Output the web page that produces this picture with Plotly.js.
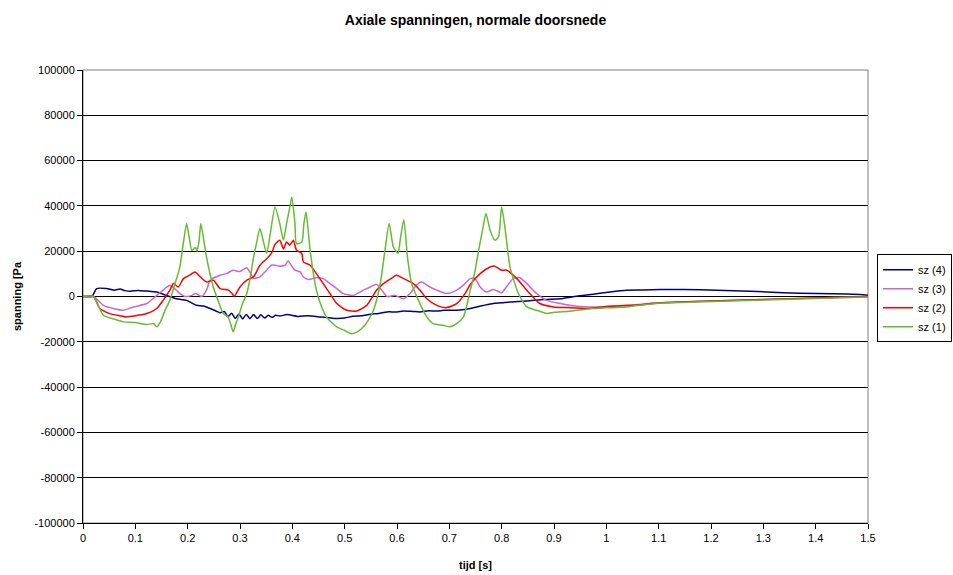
<!DOCTYPE html>
<html>
<head>
<meta charset="utf-8">
<script src="https://cdn.plot.ly/plotly-3.0.1.min.js"></script>
<style>html,body{margin:0;padding:0;background:#fff;}#chart{width:953px;height:575px;}</style>
</head>
<body>
<div id="chart"></div>
<script>
// sz (4)
var t4 = [0, 0.017, 0.026, 0.045, 0.06, 0.071, 0.08, 0.09, 0.105, 0.122, 0.141, 0.159, 0.179, 0.198, 0.217, 0.23, 0.243, 0.255, 0.262, 0.27, 0.277, 0.284, 0.291, 0.298, 0.305, 0.312, 0.319, 0.326, 0.333, 0.34, 0.347, 0.354, 0.361, 0.368, 0.376, 0.39, 0.41, 0.43, 0.453, 0.47, 0.485, 0.5, 0.516, 0.533, 0.549, 0.565, 0.581, 0.6, 0.612, 0.63, 0.644, 0.66, 0.676, 0.69, 0.707, 0.72, 0.74, 0.752, 0.768, 0.784, 0.8, 0.816, 0.848, 0.88, 0.912, 0.943, 0.975, 1.007, 1.039, 1.07, 1.103, 1.147, 1.211, 1.275, 1.338, 1.402, 1.46, 1.485, 1.5];
var sz4 = [0, 0, 3500, 3500, 2800, 3300, 2600, 2300, 2700, 2400, 2000, 500, -1000, -1700, -3900, -4200, -5300, -6500, -7200, -6600, -8900, -7400, -9700, -7700, -9900, -7900, -9800, -8000, -9700, -8100, -9500, -8300, -9200, -8300, -8600, -8000, -8800, -8500, -9000, -9400, -9700, -9500, -8700, -8500, -7800, -7500, -6800, -6800, -6400, -6600, -6800, -6300, -6400, -6100, -6100, -6000, -5300, -4600, -3800, -3100, -2800, -2400, -2000, -1300, -1000, 100, 1000, 2000, 2800, 2900, 3100, 3100, 2800, 2300, 1700, 1300, 1100, 900, 500];

// sz (3)
var t3 = [0, 0.02, 0.039, 0.058, 0.077, 0.096, 0.122, 0.141, 0.153, 0.166, 0.175, 0.185, 0.195, 0.208, 0.215, 0.227, 0.236, 0.243, 0.262, 0.274, 0.287, 0.3, 0.313, 0.322, 0.326, 0.338, 0.351, 0.36, 0.367, 0.376, 0.386, 0.392, 0.399, 0.405, 0.415, 0.421, 0.431, 0.446, 0.459, 0.472, 0.485, 0.497, 0.516, 0.536, 0.549, 0.561, 0.571, 0.581, 0.596, 0.612, 0.625, 0.637, 0.647, 0.663, 0.676, 0.695, 0.714, 0.727, 0.74, 0.749, 0.759, 0.771, 0.784, 0.8, 0.809, 0.822, 0.835, 0.848, 0.867, 0.886, 0.912, 0.943, 0.988, 1.039, 1.103, 1.2, 1.3, 1.4, 1.5];
var sz3 = [0, 0, -3900, -5300, -6100, -4600, -3100, 500, 2800, 5000, 3500, 1300, 0, 500, 1300, 0, 2800, 7200, 9400, 10100, 11600, 11000, 12700, 9400, 8000, 8700, 11600, 13800, 13800, 13400, 13800, 15700, 13400, 11600, 10900, 8600, 7500, 8300, 7900, 5700, 3500, 1300, 500, 2800, 4200, 5400, 2800, 0, 500, -1000, 1300, 5000, 6400, 4200, 2800, 1300, 2800, 5000, 7900, 7900, 4200, 2000, 3100, 1700, 4200, 7900, 8300, 5700, 1300, -1700, -3100, -4300, -4600, -3900, -2800, -2000, -1300, -700, 0];

// sz (2)
var t2 = [0, 0.02, 0.032, 0.045, 0.058, 0.07, 0.083, 0.1, 0.122, 0.141, 0.153, 0.166, 0.173, 0.182, 0.192, 0.204, 0.214, 0.224, 0.236, 0.249, 0.262, 0.278, 0.284, 0.289, 0.3, 0.313, 0.326, 0.338, 0.351, 0.36, 0.367, 0.376, 0.383, 0.389, 0.395, 0.402, 0.408, 0.418, 0.421, 0.434, 0.446, 0.459, 0.472, 0.485, 0.504, 0.523, 0.542, 0.561, 0.574, 0.593, 0.599, 0.612, 0.631, 0.644, 0.657, 0.676, 0.695, 0.714, 0.73, 0.74, 0.759, 0.778, 0.787, 0.8, 0.81, 0.829, 0.848, 0.873, 0.899, 0.924, 0.963, 1.007, 1.052, 1.103, 1.2, 1.3, 1.4, 1.5];
var sz2 = [0, 0, -5300, -7000, -8000, -8500, -9000, -8500, -7500, -5300, -1700, 2800, 5700, 4200, 7900, 9400, 10800, 8700, 6400, 7200, 3500, 2800, 1500, 100, 4200, 7200, 8700, 13800, 16700, 19000, 23000, 24800, 21000, 24100, 22600, 24800, 20400, 19000, 15300, 13800, 10100, 5700, 1300, -3100, -6100, -6400, -3900, 2800, 5700, 8600, 9400, 8000, 5700, 2800, -1000, -3900, -4900, -3100, 1300, 5300, 10100, 13000, 13400, 11600, 11600, 7900, 2800, -3100, -4600, -4900, -5300, -4300, -3900, -2800, -2000, -1300, -700, 0];

// sz (1)
var t1 = [0, 0.02, 0.039, 0.06, 0.077, 0.1, 0.122, 0.135, 0.141, 0.148, 0.157, 0.166, 0.175, 0.185, 0.192, 0.198, 0.203, 0.208, 0.215, 0.218, 0.222, 0.225, 0.23, 0.236, 0.249, 0.26, 0.268, 0.277, 0.282, 0.287, 0.292, 0.297, 0.305, 0.313, 0.32, 0.326, 0.332, 0.338, 0.345, 0.351, 0.358, 0.367, 0.376, 0.383, 0.389, 0.394, 0.399, 0.405, 0.408, 0.418, 0.422, 0.426, 0.43, 0.434, 0.446, 0.455, 0.465, 0.475, 0.485, 0.5, 0.513, 0.525, 0.536, 0.545, 0.555, 0.568, 0.577, 0.585, 0.593, 0.602, 0.606, 0.613, 0.62, 0.628, 0.641, 0.657, 0.669, 0.688, 0.701, 0.714, 0.727, 0.74, 0.748, 0.756, 0.764, 0.77, 0.778, 0.787, 0.794, 0.8, 0.807, 0.816, 0.832, 0.848, 0.867, 0.886, 0.9, 0.912, 0.93, 0.943, 0.975, 1.0, 1.039, 1.1, 1.2, 1.3, 1.4, 1.5];
var sz1 = [0, 0, -8300, -10000, -11200, -11500, -12400, -12000, -13400, -11200, -6000, -1700, 5000, 13000, 24000, 32200, 26000, 20400, 21600, 20000, 25000, 32200, 26000, 17400, 4200, -3000, -7500, -9000, -12000, -15600, -12000, -9000, -3000, 1300, 9000, 17400, 24000, 30000, 24000, 19000, 28000, 39500, 32200, 24800, 32200, 38000, 43900, 32200, 23300, 24000, 32000, 37300, 30000, 20400, 2800, -4000, -9000, -11500, -13400, -15000, -16400, -15500, -13400, -10500, -6100, 5700, 20400, 32200, 21900, 19000, 24800, 33900, 17400, 5700, -1700, -9000, -12000, -12700, -13400, -12000, -9000, 2800, 10000, 20400, 30000, 36600, 29200, 24800, 26300, 39500, 29200, 13000, 1300, -4600, -6100, -7500, -7000, -6800, -6500, -6100, -5300, -5000, -4600, -3000, -2200, -1600, -900, -200];

var seriesNames = ['sz (4)', 'sz (3)', 'sz (2)', 'sz (1)'];
var seriesColors = ['#000080', '#CC66CC', '#FF0000', '#66BB33'];

var yTickVals = [100000, 80000, 60000, 40000, 20000, 0, -20000, -40000, -60000, -80000, -100000];
var yTickText = ['100000', '80000', '60000', '40000', '20000', '0', '-20000', '-40000', '-60000', '-80000', '-100000'];
var xTickVals = [0, 0.1, 0.2, 0.3, 0.4, 0.5, 0.6, 0.7, 0.8, 0.9, 1, 1.1, 1.2, 1.3, 1.4, 1.5];
var xTickText = ['0', '0.1', '0.2', '0.3', '0.4', '0.5', '0.6', '0.7', '0.8', '0.9', '1', '1.1', '1.2', '1.3', '1.4', '1.5'];

var xs = [t4, t3, t2, t1];
var ys = [sz4, sz3, sz2, sz1];
var traces = [];
for (var i = 0; i < 4; i++) {
  traces.push({
    x: xs[i], y: ys[i], name: seriesNames[i], type: 'scatter', mode: 'lines',
    line: {color: seriesColors[i], width: 1.5, shape: 'spline', smoothing: 0.6}
  });
}

var font = {family: 'Liberation Sans, Arial, sans-serif', size: 11, color: '#000'};
var layout = {
  width: 953, height: 575,
  margin: {l: 83, r: 85, t: 70, b: 52},
  paper_bgcolor: '#fff', plot_bgcolor: '#fff',
  font: font,
  showlegend: true,
  title: {text: '<b>Axiale spanningen, normale doorsnede</b>', font: {family: font.family, size: 14, color: '#000'}, x: 0.5, xanchor: 'center', y: 0.965, yanchor: 'middle', xref: 'paper', yref: 'container'},
  xaxis: {
    range: [0, 1.5], tickvals: xTickVals, ticktext: xTickText,
    showgrid: false, zeroline: false, showline: true, linecolor: '#000', linewidth: 1,
    ticks: 'outside', ticklen: 5, tickcolor: '#000', tickfont: font,
    mirror: false, automargin: false,
    title: {text: '<b>tijd [s]</b>', font: font, standoff: 18}
  },
  yaxis: {
    range: [-100000, 100000], tickvals: yTickVals, ticktext: yTickText,
    showgrid: true, gridcolor: '#000', gridwidth: 1, zeroline: false,
    showline: true, linecolor: '#000', linewidth: 1,
    ticks: 'outside', ticklen: 5, tickcolor: '#000', tickfont: font,
    automargin: false,
    title: {text: '<b>spanning [Pa</b>', font: font, standoff: 10}
  },
  legend: {
    xref: 'container', yref: 'container',
    x: 0.999, y: 0.558, xanchor: 'right', yanchor: 'top',
    bordercolor: '#000', borderwidth: 1, bgcolor: '#fff',
    font: font, traceorder: 'normal', tracegroupgap: 0, itemwidth: 30
  },
  shapes: [
    {type: 'rect', xref: 'paper', yref: 'paper', x0: 0, x1: 1, y0: 0, y1: 1, line: {color: '#808080', width: 1}, layer: 'below'}
  ]
};

Plotly.newPlot('chart', traces, layout, {displayModeBar: false, staticPlot: true});
</script>
</body>
</html>
